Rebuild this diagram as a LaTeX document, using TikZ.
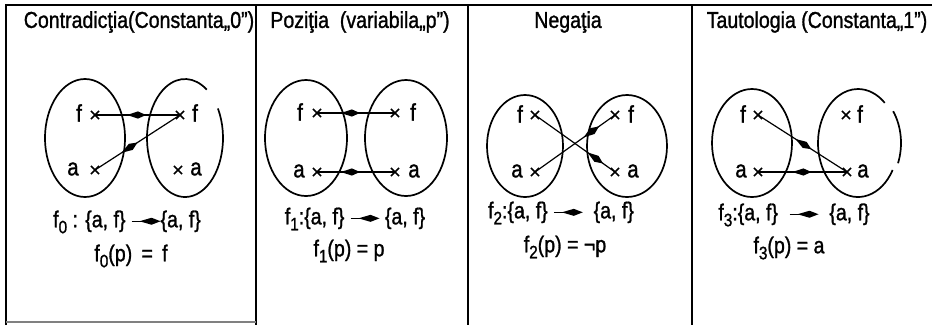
\documentclass[tikz,border=0pt]{standalone}
\usepackage{fontspec}
\setmainfont{Liberation Sans}[FakeStretch=0.85,FakeBold=1.2]
\usetikzlibrary{decorations.markings,shapes.misc}
\newcommand\sbx[1]{\raisebox{-6pt}{\fontsize{18}{18}\selectfont #1}}
\newcommand\maparr{\tikz[baseline=-6pt]{\draw[line width=1.3pt] (0pt,0pt)--(26pt,0pt);
  \fill (29pt,0pt)--(20pt,3.5pt)--(8pt,0pt)--(20pt,-3.5pt)--cycle;}}
\tikzset{
  frame/.style={line width=1.6pt},
  set/.style={line width=1.7pt},
  pt/.style={cross out,draw,line width=1.6pt,minimum size=6.5pt,inner sep=0pt},
  lbl/.style={font=\fontsize{24}{24}\selectfont,inner sep=0pt},
  ttl/.style={font=\fontsize{23}{23}\selectfont,inner sep=0pt},
  frm/.style={font=\fontsize{23}{23}\selectfont,inner sep=0pt},
  maparrow/.style={line width=1.2pt,postaction={decorate},
    decoration={markings,mark=at position #1 with
      {\fill (0pt,0pt) -- (-8pt,3.6pt) -- (-19pt,0pt) -- (-8pt,-3.6pt) -- cycle;}}},
  maparrow/.default=0.55
}
\begin{document}
\begin{tikzpicture}[x=1pt,y=-1pt]
\useasboundingbox (0,0) rectangle (932,325);
% frame
\draw[frame] (6,325) -- (6,5) -- (932,5);
\draw[frame] (256,5) -- (256,325);
\draw[frame] (468,5) -- (468,325);
\draw[frame] (692,5) -- (692,325);
\draw[line width=1.2pt,gray] (6,322) -- (256,322);
% titles
\node[ttl] (t1) at (139,22) {Contradicţia(Constanta„0”)};
\node[ttl] (t2) at (360,22) {Poziţia \ (variabila„p”)};
\node[ttl] (t3) at (568,22) {Negaţia};
\node[ttl] (t4) at (817,22) {Tautologia (Constanta„1”)};
% ---- panel 1
\draw[set] (85,138) ellipse [x radius=40,y radius=59];
\draw[set] (185,138) ++(-30:38 and 59) arc[start angle=-30,end angle=305,x radius=38,y radius=59];
\node[pt] (p1lf) at (95,115) {};
\node[pt] (p1la) at (95,170) {};
\node[pt] (p1rf) at (180,115) {};
\node[pt] (p1ra) at (178,170) {};
\node[lbl] (l1lf) at (79,113) {f};
\node[lbl] (l1la) at (73,169) {a};
\node[lbl] (l1rf) at (195,113) {f};
\node[lbl] (l1ra) at (196,169) {a};
\draw[maparrow=0.6] (p1lf.center) -- (p1rf.center);
\draw[maparrow=0.5] (p1la.center) -- (p1rf.center);
\node[frm] (e1a) at (127,222) {f\sbx{0} : \{a, f\} \maparr\{a, f\}};
\node[frm] (e1b) at (131,256) {f\sbx{0}(p) \,=\, f};
% ---- panel 2
\draw[set] (306,138) ellipse [x radius=41,y radius=58];
\draw[set] (406,138) ellipse [x radius=41,y radius=58];
\node[pt] (p2lf) at (317,113) {};
\node[pt] (p2la) at (317,172) {};
\node[pt] (p2rf) at (395,113) {};
\node[pt] (p2ra) at (395,172) {};
\node[lbl] (l2lf) at (300,112) {f};
\node[lbl] (l2la) at (299,171) {a};
\node[lbl] (l2rf) at (413,112) {f};
\node[lbl] (l2ra) at (414,171) {a};
\draw[maparrow=0.55] (p2lf.center) -- (p2rf.center);
\draw[maparrow=0.55] (p2la.center) -- (p2ra.center);
\node[frm] (e2a) at (355,219) {f\sbx{1}:\{a, f\} \maparr\ \{a, f\}};
\node[frm] (e2b) at (349,251) {f\sbx{1}(p) = p};
% ---- panel 3
\draw[set] (525,146) ellipse [x radius=38,y radius=51];
\draw[set] (627,146) ellipse [x radius=40,y radius=51];
\node[pt] (p3lf) at (535,115) {};
\node[pt] (p3la) at (535,172) {};
\node[pt] (p3rf) at (615,115) {};
\node[pt] (p3ra) at (615,172) {};
\node[lbl] (l3lf) at (520,114) {f};
\node[lbl] (l3la) at (517,171) {a};
\node[lbl] (l3rf) at (631,114) {f};
\node[lbl] (l3ra) at (633,171) {a};
\draw[maparrow=0.85] (p3lf.center) -- (p3ra.center);
\draw[maparrow=0.8] (p3la.center) -- (p3rf.center);
\node[frm] (e3a) at (561,213) {f\sbx{2}:\{a, f\} \maparr\ \ \{a, f\}};
\node[frm] (e3b) at (565,247) {f\sbx{2}(p) = ¬p};
% ---- panel 4
\draw[set] (752,143) ellipse [x radius=40,y radius=54];
\draw[set] (858,143) ++(30:40 and 54) arc[start angle=30,end angle=312,x radius=40,y radius=54];
\draw[set] (860,143) ++(22:41 and 54) arc[start angle=22,end angle=-36,x radius=41,y radius=54];
\node[pt] (p4lf) at (758,115) {};
\node[pt] (p4la) at (758,172) {};
\node[pt] (p4rf) at (846,115) {};
\node[pt] (p4ra) at (847,172) {};
\node[lbl] (l4lf) at (743,114) {f};
\node[lbl] (l4la) at (741,171) {a};
\node[lbl] (l4rf) at (860,114) {f};
\node[lbl] (l4ra) at (863,171) {a};
\draw[maparrow=0.6] (p4lf.center) -- (p4ra.center);
\draw[maparrow=0.6] (p4la.center) -- (p4ra.center);
\node[frm] (e4a) at (794,215) {f\sbx{3}:\{a, f\} \ \maparr\ \ \{a, f\}};
\node[frm] (e4b) at (789,248) {f\sbx{3}(p) = a};
\end{tikzpicture}
\end{document}
